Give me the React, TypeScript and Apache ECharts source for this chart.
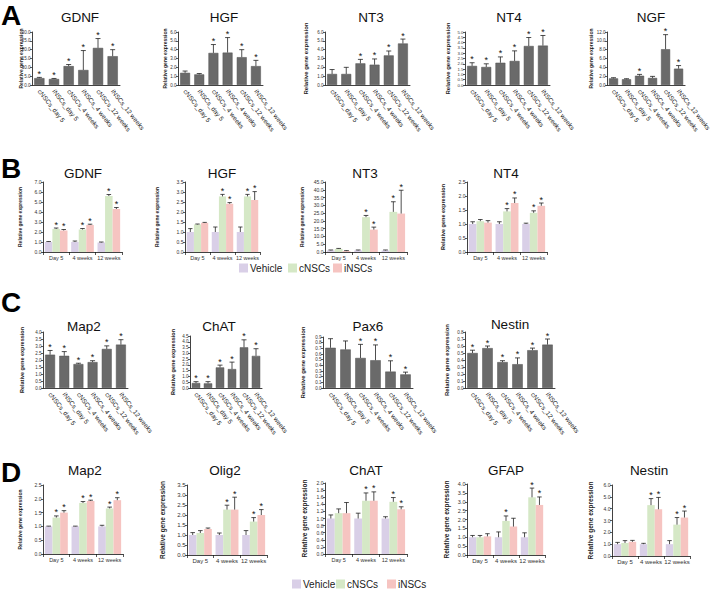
import React, { useEffect, useRef } from "react";
import * as echarts from "echarts";

const FONT = "'Liberation Sans', Arial, Helvetica, sans-serif";

// ---------- categories ----------
const SAMPLE_LABELS = ["cNSCs_day 5", "iNSCs_day 5", "cNSCs_4 weeks", "iNSCs_4 weeks", "cNSCs_12 weeks", "iNSCs_12 weeks"];
const TIME_LABELS = ["Day 5", "4 weeks", "12 weeks"];
const GROUPS = ["Vehicle", "cNSCs", "iNSCs"];
const Y_NAME = "Relative gene expression";

// ---------- Panel A ----------
const A_GDNF_MEAN = [3.9, 3.4, 10.7, 8.5, 21.0, 16.3];
const A_GDNF_ERR = [0.4, 0.3, 0.9, 11.0, 5.3, 3.7];
const A_GDNF_SIG = [1, 1, 1, 1, 1, 1];
const A_HGF_MEAN = [1.38, 1.2, 3.63, 3.67, 3.15, 2.14];
const A_HGF_ERR = [0.2, 0.1, 0.95, 1.7, 0.85, 0.65];
const A_HGF_SIG = [0, 0, 1, 1, 1, 1];
const A_NT3_MEAN = [1.25, 1.25, 2.45, 2.3, 3.35, 4.7];
const A_NT3_ERR = [0.5, 0.75, 0.45, 0.65, 0.5, 0.5];
const A_NT3_SIG = [0, 0, 1, 1, 1, 1];
const A_NT4_MEAN = [1.8, 1.7, 2.1, 2.27, 3.68, 3.72];
const A_NT4_ERR = [0.3, 0.3, 0.55, 0.95, 0.8, 0.95];
const A_NT4_SIG = [1, 1, 1, 1, 1, 1];
const A_NGF_MEAN = [1.5, 1.3, 2.1, 1.6, 8.1, 3.7];
const A_NGF_ERR = [0.15, 0.12, 0.3, 0.35, 3.3, 0.7];
const A_NGF_SIG = [0, 0, 1, 0, 1, 1];

// ---------- Panel B (rows: Vehicle, cNSCs, iNSCs) ----------
const B_GDNF_MEAN = [[1.0, 1.0, 0.95], [2.3, 2.25, 5.6], [2.15, 2.7, 4.3]];
const B_GDNF_ERR = [[0.05, 0.1, 0.05], [0.1, 0.1, 0.15], [0.1, 0.08, 0.15]];
const B_GDNF_SIG = [[0, 0, 0], [1, 1, 1], [1, 1, 1]];
const B_HGF_MEAN = [[1.0, 1.0, 1.0], [1.38, 2.78, 2.78], [1.46, 2.41, 2.6]];
const B_HGF_ERR = [[0.17, 0.25, 0.25], [0.02, 0.1, 0.1], [0.02, 0.06, 0.42]];
const B_HGF_SIG = [[0, 0, 0], [0, 1, 1], [0, 1, 1]];
const B_NT3_MEAN = [[1.0, 1.0, 1.0], [2.0, 22.4, 25.8], [0.6, 14.4, 24.7]];
const B_NT3_ERR = [[0.3, 0.3, 0.3], [0.3, 1.1, 6.5], [0.3, 1.6, 15.0]];
const B_NT3_SIG = [[0, 0, 0], [0, 1, 1], [0, 1, 1]];
const B_NT4_MEAN = [[1.0, 1.0, 1.0], [1.1, 1.45, 1.4], [1.05, 1.75, 1.65]];
const B_NT4_ERR = [[0.08, 0.08, 0.03], [0.06, 0.1, 0.07], [0.07, 0.18, 0.1]];
const B_NT4_SIG = [[0, 0, 0], [0, 1, 1], [0, 1, 1]];

// ---------- Panel C ----------
const C_MAP2_MEAN = [2.38, 2.3, 1.71, 1.85, 2.79, 3.1];
const C_MAP2_ERR = [0.3, 0.3, 0.06, 0.1, 0.22, 0.35];
const C_MAP2_SIG = [1, 1, 1, 1, 1, 1];
const C_CHAT_MEAN = [0.43, 0.4, 1.78, 1.64, 3.52, 2.78];
const C_CHAT_ERR = [0.12, 0.15, 0.2, 0.6, 0.65, 0.62];
const C_CHAT_SIG = [1, 1, 1, 1, 1, 1];
const C_PAX6_MEAN = [0.71, 0.68, 0.53, 0.49, 0.29, 0.24];
const C_PAX6_ERR = [0.16, 0.15, 0.24, 0.27, 0.19, 0.04];
const C_PAX6_SIG = [0, 0, 1, 1, 1, 1];
const C_NESTIN_MEAN = [0.5, 0.57, 0.37, 0.34, 0.54, 0.62];
const C_NESTIN_ERR = [0.04, 0.03, 0.02, 0.09, 0.03, 0.08];
const C_NESTIN_SIG = [1, 1, 1, 1, 1, 1];

// ---------- Panel D (rows: Vehicle, cNSCs, iNSCs) ----------
const D_MAP2_MEAN = [[1.0, 1.0, 1.0], [1.32, 1.85, 1.65], [1.5, 1.92, 1.95]];
const D_MAP2_ERR = [[0.01, 0.01, 0.04], [0.06, 0.05, 0.05], [0.07, 0.03, 0.09]];
const D_MAP2_SIG = [[0, 0, 0], [1, 1, 1], [1, 1, 1]];
const D_OLIG2_MEAN = [[1.0, 1.0, 1.0], [1.1, 2.27, 1.67], [1.3, 2.27, 2.0]];
const D_OLIG2_ERR = [[0.12, 0.1, 0.22], [0.12, 0.22, 0.2], [0.05, 0.62, 0.27]];
const D_OLIG2_SIG = [[0, 0, 0], [0, 1, 1], [0, 1, 1]];
const D_CHAT_MEAN = [[1.0, 1.0, 1.0], [1.15, 1.5, 1.47], [1.15, 1.5, 1.26]];
const D_CHAT_ERR = [[0.1, 0.15, 0.05], [0.12, 0.22, 0.12], [0.3, 0.25, 0.07]];
const D_CHAT_SIG = [[0, 0, 0], [0, 1, 1], [0, 1, 1]];
const D_GFAP_MEAN = [[1.0, 1.0, 1.0], [1.0, 1.92, 3.25], [1.05, 1.6, 2.82]];
const D_GFAP_ERR = [[0.1, 0.3, 0.25], [0.1, 0.28, 0.52], [0.15, 0.47, 0.45]];
const D_GFAP_SIG = [[0, 0, 0], [0, 1, 1], [0, 0, 1]];
const D_NESTIN_MEAN = [[1.0, 1.0, 1.0], [1.1, 4.3, 2.65], [1.2, 3.95, 3.25]];
const D_NESTIN_ERR = [[0.15, 0.07, 0.3], [0.2, 0.55, 0.6], [0.12, 1.0, 0.55]];
const D_NESTIN_SIG = [[0, 0, 0], [0, 1, 1], [0, 1, 1]];

const BAR_GRAY = "#6a6a6a";
const GROUP_COLORS = ["#d9cfe7", "#d5e8c6", "#f6c4c1"];

type Chart = {
  title: string; tx: number; ty: number;
  left: number; top: number; width: number; height: number;
  max: number; step: number;
  cats: string[]; rotated: boolean; catSize: number;
  means: number[][]; errs: number[][]; sigs: number[][];
  tickSize: number; nameSize: number; nameGap: number;
};

const single = (m: number[], e: number[], s: number[]) => ({ means: [m], errs: [e], sigs: [s] });

const CHARTS: Chart[] = [
  // A
  { title: "GDNF", tx: 80, ty: 17, left: 32, top: 32, width: 88, height: 53, max: 30, step: 5, cats: SAMPLE_LABELS, rotated: true, catSize: 6.5, ...single(A_GDNF_MEAN, A_GDNF_ERR, A_GDNF_SIG), tickSize: 4.5, nameSize: 5, nameGap: 8.5 },
  { title: "HGF", tx: 224, ty: 17, left: 178, top: 32, width: 85, height: 53, max: 6, step: 1, cats: SAMPLE_LABELS, rotated: true, catSize: 6.5, ...single(A_HGF_MEAN, A_HGF_ERR, A_HGF_SIG), tickSize: 4.5, nameSize: 5, nameGap: 10.5 },
  { title: "NT3", tx: 371, ty: 17, left: 325, top: 32, width: 85, height: 53, max: 6, step: 1, cats: SAMPLE_LABELS, rotated: true, catSize: 6.5, ...single(A_NT3_MEAN, A_NT3_ERR, A_NT3_SIG), tickSize: 4.5, nameSize: 6, nameGap: 16 },
  { title: "NT4", tx: 509, ty: 17, left: 465, top: 32, width: 85, height: 53, max: 5, step: 0.5, cats: SAMPLE_LABELS, rotated: true, catSize: 6.5, ...single(A_NT4_MEAN, A_NT4_ERR, A_NT4_SIG), tickSize: 4.3, nameSize: 6, nameGap: 14.5 },
  { title: "NGF", tx: 651, ty: 17, left: 607, top: 32, width: 86, height: 53, max: 12, step: 2, cats: SAMPLE_LABELS, rotated: true, catSize: 6.5, ...single(A_NGF_MEAN, A_NGF_ERR, A_NGF_SIG), tickSize: 4.5, nameSize: 5, nameGap: 13.5 },
  // B
  { title: "GDNF", tx: 83, ty: 173, left: 43, top: 182, width: 79, height: 70, max: 7, step: 1, cats: TIME_LABELS, rotated: false, catSize: 5.5, means: B_GDNF_MEAN, errs: B_GDNF_ERR, sigs: B_GDNF_SIG, tickSize: 5, nameSize: 5, nameGap: 20.5 },
  { title: "HGF", tx: 222, ty: 173, left: 185, top: 182, width: 75, height: 70, max: 3.5, step: 0.5, cats: TIME_LABELS, rotated: false, catSize: 5.5, means: B_HGF_MEAN, errs: B_HGF_ERR, sigs: B_HGF_SIG, tickSize: 5, nameSize: 5, nameGap: 25.5 },
  { title: "NT3", tx: 365, ty: 173, left: 325, top: 182, width: 82, height: 70, max: 45, step: 5, cats: TIME_LABELS, rotated: false, catSize: 5.5, means: B_NT3_MEAN, errs: B_NT3_ERR, sigs: B_NT3_SIG, tickSize: 5, nameSize: 5, nameGap: 20.5 },
  { title: "NT4", tx: 506, ty: 173, left: 467, top: 182, width: 80, height: 70, max: 2.5, step: 0.5, cats: TIME_LABELS, rotated: false, catSize: 5.5, means: B_NT4_MEAN, errs: B_NT4_ERR, sigs: B_NT4_SIG, tickSize: 5, nameSize: 5.5, nameGap: 21 },
  // C
  { title: "Map2", tx: 84, ty: 326, left: 43, top: 332, width: 85, height: 56, max: 4, step: 0.5, cats: SAMPLE_LABELS, rotated: true, catSize: 6.5, ...single(C_MAP2_MEAN, C_MAP2_ERR, C_MAP2_SIG), tickSize: 4.5, nameSize: 5.5, nameGap: 18 },
  { title: "ChAT", tx: 219, ty: 326, left: 190, top: 336, width: 72, height: 52, max: 4.5, step: 0.5, cats: SAMPLE_LABELS, rotated: true, catSize: 6.5, ...single(C_CHAT_MEAN, C_CHAT_ERR, C_CHAT_SIG), tickSize: 4.5, nameSize: 5.5, nameGap: 14 },
  { title: "Pax6", tx: 368, ty: 326, left: 323, top: 337, width: 90, height: 51, max: 0.9, step: 0.1, cats: SAMPLE_LABELS, rotated: true, catSize: 6.5, ...single(C_PAX6_MEAN, C_PAX6_ERR, C_PAX6_SIG), tickSize: 4.5, nameSize: 6, nameGap: 17 },
  { title: "Nestin", tx: 510, ty: 324, left: 465, top: 332, width: 90, height: 56, max: 0.8, step: 0.1, cats: SAMPLE_LABELS, rotated: true, catSize: 6.5, ...single(C_NESTIN_MEAN, C_NESTIN_ERR, C_NESTIN_SIG), tickSize: 4.5, nameSize: 6, nameGap: 15 },
  // D
  { title: "Map2", tx: 85, ty: 470, left: 43, top: 485, width: 80, height: 69, max: 2.5, step: 0.5, cats: TIME_LABELS, rotated: false, catSize: 5.5, means: D_MAP2_MEAN, errs: D_MAP2_ERR, sigs: D_MAP2_SIG, tickSize: 5, nameSize: 5, nameGap: 20.5 },
  { title: "Olig2", tx: 225, ty: 470, left: 187, top: 485, width: 80, height: 70, max: 3.5, step: 0.5, cats: TIME_LABELS, rotated: false, catSize: 6, means: D_OLIG2_MEAN, errs: D_OLIG2_ERR, sigs: D_OLIG2_SIG, tickSize: 6, nameSize: 6.5, nameGap: 21 },
  { title: "ChAT", tx: 366, ty: 470, left: 325, top: 483, width: 82, height: 71, max: 2.0, step: 0.2, cats: TIME_LABELS, rotated: false, catSize: 5.5, means: D_CHAT_MEAN, errs: D_CHAT_ERR, sigs: D_CHAT_SIG, tickSize: 5, nameSize: 6.5, nameGap: 17 },
  { title: "GFAP", tx: 506, ty: 470, left: 467, top: 484, width: 78, height: 71, max: 4, step: 0.5, cats: TIME_LABELS, rotated: false, catSize: 6, means: D_GFAP_MEAN, errs: D_GFAP_ERR, sigs: D_GFAP_SIG, tickSize: 5.5, nameSize: 6.5, nameGap: 17 },
  { title: "Nestin", tx: 649, ty: 470, left: 612, top: 485, width: 78, height: 71, max: 6, step: 1, cats: TIME_LABELS, rotated: false, catSize: 6, means: D_NESTIN_MEAN, errs: D_NESTIN_ERR, sigs: D_NESTIN_SIG, tickSize: 5, nameSize: 6.5, nameGap: 18 },
];

const PANEL_LETTERS = [
  { text: "A", y: 15 },
  { text: "B", y: 168 },
  { text: "C", y: 302 },
  { text: "D", y: 472 },
];

const LEGENDS = [
  { y: 268, size: 10, box: 9, xs: [239, 288, 333] },
  { y: 584, size: 10, box: 9, xs: [292, 336, 387] },
];

function makeErrRender(s: number, n: number, gap: number) {
  return (params: any, api: any) => {
    const k = api.value(0);
    const v = api.value(1);
    const e = api.value(2);
    const st = api.value(3);
    const p0 = api.coord([k, v]);
    const p1 = api.coord([k, v + e]);
    const band = api.size([1, 0])[0];
    const total = band * (1 - gap);
    const bw = total / n;
    const cx = p0[0] - total / 2 + (s + 0.5) * bw;
    const cap = Math.min(bw * 0.3, 2.5);
    const stroke = "#222";
    const children: any[] = [
      { type: "line", shape: { x1: cx, y1: p0[1], x2: cx, y2: p1[1] }, style: { stroke, lineWidth: 0.8 } },
      { type: "line", shape: { x1: cx - cap, y1: p1[1], x2: cx + cap, y2: p1[1] }, style: { stroke, lineWidth: 0.8 } },
    ];
    if (st) {
      children.push({
        type: "text",
        x: cx,
        y: p1[1] + 1,
        style: { text: "*", fontSize: 9, fontFamily: FONT, fill: "#111", align: "center", verticalAlign: "bottom", textAlign: "center", textVerticalAlign: "bottom" },
      });
    }
    return { type: "group", children };
  };
}

function buildOption() {
  const grid: any[] = [];
  const xAxis: any[] = [];
  const yAxis: any[] = [];
  const series: any[] = [];
  const graphic: any[] = [];

  CHARTS.forEach((c, i) => {
    grid.push({ left: c.left, top: c.top, width: c.width, height: c.height });
    xAxis.push({
      gridIndex: i,
      type: "category",
      data: c.cats,
      axisLine: { lineStyle: { color: "#111", width: 0.8 } },
      axisTick: c.rotated ? { show: false } : { show: true, length: 3, alignWithLabel: false, lineStyle: { color: "#111", width: 0.7 } },
      axisLabel: c.rotated
        ? { interval: 0, rotate: -52, fontSize: c.catSize, fontFamily: FONT, color: "#222", margin: 5 }
        : { interval: 0, fontSize: c.catSize, fontFamily: FONT, color: "#333", margin: 3 },
    });
    yAxis.push({
      gridIndex: i,
      type: "value",
      min: 0,
      max: c.max,
      interval: c.step,
      splitLine: { show: false },
      axisLine: { show: true, lineStyle: { color: "#111", width: 0.8 } },
      axisTick: { show: true, length: 2, lineStyle: { color: "#111", width: 0.7 } },
      axisLabel: { fontSize: c.tickSize, fontFamily: FONT, color: "#333", margin: 1.5, formatter: (v: number) => v.toFixed(1) },
      name: Y_NAME,
      nameLocation: "middle",
      nameGap: c.nameGap,
      nameMoveOverlap: false,
      nameTextStyle: { fontSize: c.nameSize, fontWeight: "bold", fontFamily: FONT, color: "#222" },
    });
    const n = c.means.length;
    const gap = n === 1 ? 0.3 : 0.14;
    c.means.forEach((m, s) => {
      series.push({
        type: "bar",
        name: n === 1 ? c.title : GROUPS[s],
        xAxisIndex: i,
        yAxisIndex: i,
        data: m,
        barGap: "0%",
        barCategoryGap: `${gap * 100}%`,
        silent: true,
        itemStyle: n === 1 ? { color: BAR_GRAY, borderColor: "#505050", borderWidth: 0.5 } : { color: GROUP_COLORS[s] },
      });
    });
    c.means.forEach((m, s) => {
      series.push({
        type: "custom",
        xAxisIndex: i,
        yAxisIndex: i,
        z: 5,
        silent: true,
        encode: { x: 0, y: 1 },
        data: m.map((v, k) => [k, v, c.errs[s][k], c.sigs[s][k]]),
        renderItem: makeErrRender(s, n, gap),
      });
    });
    graphic.push({
      type: "text",
      x: c.tx,
      y: c.ty,
      style: { text: c.title, fontSize: 13.5, fontFamily: FONT, fill: "#111", align: "center", verticalAlign: "middle", textAlign: "center", textVerticalAlign: "middle" },
    });
  });

  PANEL_LETTERS.forEach((p) => {
    graphic.push({
      type: "text",
      x: 1,
      y: p.y,
      style: { text: p.text, fontSize: 28, fontWeight: "bold", fontFamily: FONT, fill: "#000", align: "left", verticalAlign: "middle", textAlign: "left", textVerticalAlign: "middle" },
    });
  });

  LEGENDS.forEach((lg) => {
    GROUPS.forEach((g, s) => {
      graphic.push({ type: "rect", shape: { x: lg.xs[s], y: lg.y - lg.box / 2, width: lg.box, height: lg.box }, style: { fill: GROUP_COLORS[s] } });
      graphic.push({
        type: "text",
        x: lg.xs[s] + lg.box + 2,
        y: lg.y,
        style: { text: g, fontSize: lg.size, fontFamily: FONT, fill: "#222", align: "left", verticalAlign: "middle", textAlign: "left", textVerticalAlign: "middle" },
      });
    });
  });

  return { animation: false, backgroundColor: "#fff", grid, xAxis, yAxis, series, graphic };
}

export default function App() {
  const ref = useRef<HTMLDivElement>(null);
  useEffect(() => {
    if (!ref.current) return;
    const chart = echarts.init(ref.current, undefined, { renderer: "svg" });
    chart.setOption(buildOption() as any);
    return () => chart.dispose();
  }, []);
  return <div ref={ref} style={{ position: "absolute", left: 0, top: 0, width: 713, height: 589 }} />;
}
